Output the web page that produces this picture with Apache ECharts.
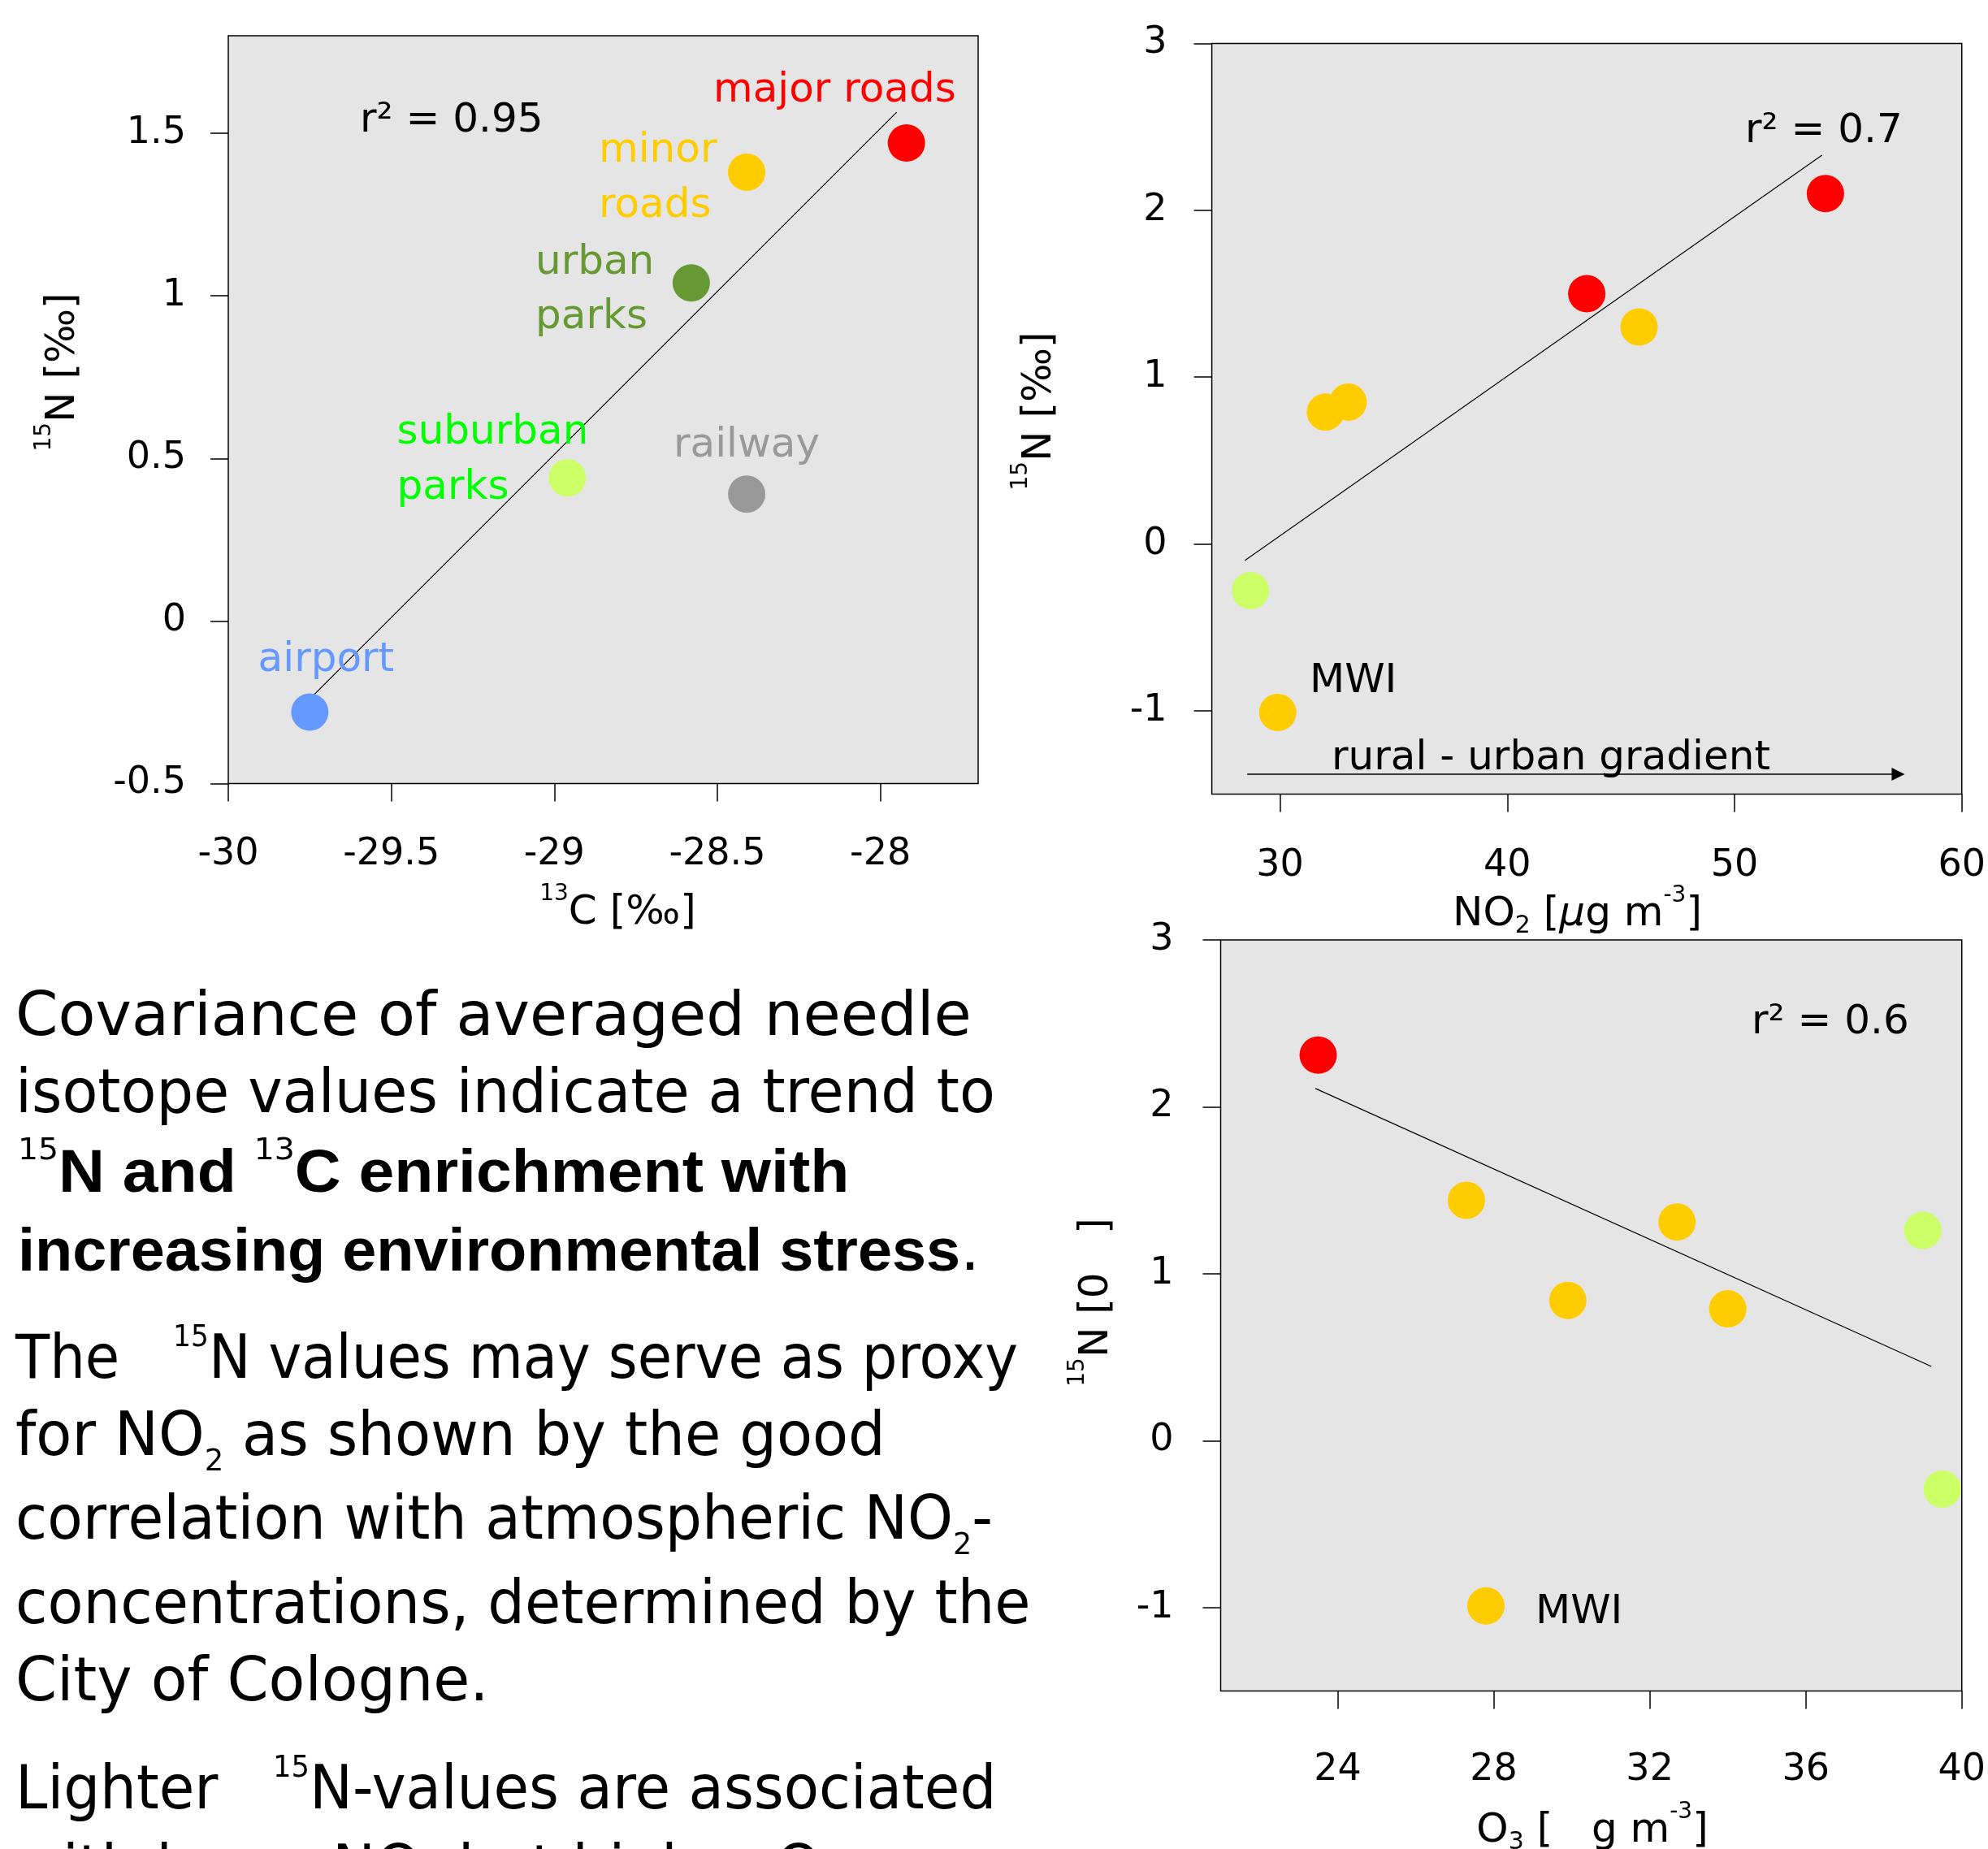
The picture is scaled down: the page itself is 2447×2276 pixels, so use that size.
<!DOCTYPE html>
<html>
<head>
<meta charset="utf-8">
<title>15N covariance</title>
<script src="https://cdn.jsdelivr.net/npm/echarts@6/dist/echarts.min.js"></script>
<style>
  html, body { margin: 0; padding: 0; background: #fff; }
  #main { width: 2447px; height: 2276px; }
</style>
</head>
<body>
<div id="main"></div>
<script>
  // ---- data read off the poster ----
  // panel 1: d13C vs d15N, one mean per site type
  const siteNames = ['airport', 'suburban parks', 'urban parks', 'minor roads', 'railway', 'major roads'];
  const c13 = [-29.75, -28.96, -28.58, -28.41, -28.41, -27.92];
  const n15Site = [-0.28, 0.44, 1.04, 1.38, 0.39, 1.47];
  const fit1X = [-29.76, -27.95];
  const fit1Y = [-0.25, 1.565];

  // panel 2: NO2 vs d15N
  const no2 = [28.7, 29.9, 32.0, 33.0, 43.5, 45.8, 54.0];
  const n15No2 = [-0.28, -1.01, 0.79, 0.85, 1.50, 1.30, 2.10];
  const no2Type = ['suburban parks', 'minor roads', 'minor roads', 'minor roads', 'major roads', 'minor roads', 'major roads'];
  const fit2X = [28.45, 53.85];
  const fit2Y = [-0.10, 2.33];
  const gradientX = [28.56, 57.2];
  const gradientY = [-1.38, -1.38];

  // panel 3: O3 vs d15N
  const o3 = [23.5, 27.3, 27.8, 29.9, 32.7, 34.0, 39.0, 39.5];
  const n15O3 = [2.31, 1.44, -0.99, 0.84, 1.31, 0.79, 1.26, -0.29];
  const o3Type = ['major roads', 'minor roads', 'minor roads', 'minor roads', 'minor roads', 'minor roads', 'suburban parks', 'suburban parks'];
  const fit3X = [23.43, 39.22];
  const fit3Y = [2.11, 0.445];

  // tick labels
  const xTicks1 = [-30, -29.5, -29, -28.5, -28];
  const yTicks1 = [-0.5, 0, 0.5, 1, 1.5];
  const xTicks2 = [30, 40, 50, 60];
  const xTicks3 = [24, 28, 32, 36, 40];
  const yTicks23 = [-1, 0, 1, 2, 3];

  const markerColor = {
    'airport': '#6699FF',
    'suburban parks': '#CCFF66',
    'urban parks': '#669933',
    'minor roads': '#FFCC00',
    'railway': '#999999',
    'major roads': '#FF0000'
  };

  const FONT = '"DejaVu Sans"';
  const BOLD = '"Liberation Sans"';
  const MID = 0.27; // baseline -> text middle, as a share of font size

  const chart = echarts.init(document.getElementById('main'));

  function xAxisFor(grid, min, max, ticks, margin) {
    return {
      type: 'value', gridIndex: grid, min: min, max: max, position: 'bottom',
      splitLine: {show: false},
      axisLine: {show: false, onZero: false},
      axisTick: {show: true, length: 22, customValues: ticks, lineStyle: {color: '#000', width: 1.5}},
      axisLabel: {customValues: ticks, margin: margin, color: '#000', fontSize: 46, fontFamily: 'DejaVu Sans'}
    }
  }
  function yAxisFor(grid, min, max, ticks, margin) {
    return {
      type: 'value', gridIndex: grid, min: min, max: max, position: 'left',
      splitLine: {show: false},
      axisLine: {show: false, onZero: false},
      axisTick: {show: true, length: 22, customValues: ticks, lineStyle: {color: '#000', width: 1.5}},
      axisLabel: {customValues: ticks, margin: margin, color: '#000', fontSize: 46, fontFamily: 'DejaVu Sans'}
    }
  }

  function points(xs, ys, types, idx) {
    return {
      type: 'scatter', xAxisIndex: idx, yAxisIndex: idx, symbol: 'circle', symbolSize: 46, z: 4,
      itemStyle: {opacity: 1},
      data: xs.map((x, i) => ({value: [x, ys[i]], itemStyle: {color: markerColor[types[i]], opacity: 1}}))
    }
  }
  function fitLine(xs, ys, idx) {
    return {
      type: 'line', xAxisIndex: idx, yAxisIndex: idx, symbol: 'none', silent: true, z: 3,
      lineStyle: {color: '#000', width: 1.2},
      data: xs.map((x, i) => [x, ys[i]])
    }
  }

  // text helpers: x = left edge, b = baseline
  function note(text, x, b, size, color) {
    return {
      type: 'text', x: x, y: b - MID * size, silent: true, z: 10,
      style: {
        text: text, font: size + 'px ' + FONT, fill: color || '#000',
        align: 'left', textAlign: 'left', verticalAlign: 'middle', textVerticalAlign: 'middle'
      }
    }
  }
  function axisTitle(text, cx, cy, rotate, rich) {
    return {
      type: 'text', x: cx, y: cy, rotation: rotate ? Math.PI / 2 : 0, silent: true, z: 10,
      style: {
        text: text, font: '50px ' + FONT, fill: '#000',
        align: 'center', textAlign: 'center', verticalAlign: 'middle', textVerticalAlign: 'middle',
        rich: rich
      }
    }
  }
  const titleRich = {
    sup: {font: '28px ' + FONT, verticalAlign: 'middle', padding: [0, 0, 46, 0]},
    sub: {font: '30px ' + FONT, verticalAlign: 'middle', padding: [28, 0, 0, 0]},
    it: {font: 'italic 50px ' + FONT, verticalAlign: 'middle'}
  };
  const bodyRich = {
    sup: {font: '37px ' + FONT, verticalAlign: 'middle', padding: [0, 0, 59, 0]},
    sub: {font: '38px ' + FONT, verticalAlign: 'middle', padding: [57, 0, 0, 0]},
    r: {font: '74px ' + FONT, verticalAlign: 'middle'}
  };

  // paragraph, one element per line: text, baseline, bold, horizontal squeeze
  const bodyLines = [
    ['Covariance of averaged needle', 1275, false, 1.016],
    ['isotope values indicate a trend to', 1370, false, 0.971],
    ['{sup|15}N and {sup|13}C enrichment with', 1466.7, true, 1.064],
    ['increasing environmental stress{r|.}', 1563.3, true, 1.022],
    ['The   {sup|15}N values may serve as proxy', 1696.7, false, 0.932],
    ['for NO{sub|2} as shown by the good', 1791.7, false, 0.974],
    ['correlation with atmospheric NO{sub|2}-', 1895, false, 0.962],
    ['concentrations, determined by the', 1998.3, false, 0.972],
    ['City of Cologne.', 2093.3, false, 0.989],
    ['Lighter   {sup|15}N-values are associated', 2226.7, false, 0.957],
    ['with lower NO{sub|2} but higher O{sub|3}', 2325, false, 0.96]
  ];
  const bodyText = bodyLines.map(([t, b, bold, sx]) => ({
    type: 'text', x: bold ? 22 : 19, y: b - MID * 74, scaleX: sx, silent: true,
    style: {
      text: t, font: bold ? 'bold 74px ' + BOLD : '74px ' + FONT, fill: '#000',
      align: 'left', textAlign: 'left', verticalAlign: 'middle', textVerticalAlign: 'middle',
      rich: bodyRich
    }
  }));

  const option = {
    animation: false,
    backgroundColor: '#fff',
    grid: [
      {left: 281, top: 44, width: 923, height: 920.5, show: true, backgroundColor: '#E5E5E5', borderColor: '#000', borderWidth: 1.5},
      {left: 1491.6, top: 53.5, width: 924.4, height: 924.1, show: true, backgroundColor: '#E5E5E5', borderColor: '#000', borderWidth: 1.5},
      {left: 1502.5, top: 1157, width: 925.2, height: 924.6, show: true, backgroundColor: '#E5E5E5', borderColor: '#000', borderWidth: 1.5}
    ],
    xAxis: [
      xAxisFor(0, -30, -27.7, xTicks1, 65),
      xAxisFor(1, 27, 60, xTicks2, 65),
      xAxisFor(2, 21, 40, xTicks3, 74)
    ],
    yAxis: [
      yAxisFor(0, -0.5, 1.8, yTicks1, 52),
      yAxisFor(1, -1.5, 3, yTicks23, 55),
      yAxisFor(2, -1.5, 3, yTicks23, 58)
    ],
    series: [
      fitLine(fit1X, fit1Y, 0),
      points(c13, n15Site, siteNames, 0),
      fitLine(fit2X, fit2Y, 1),
      points(no2, n15No2, no2Type, 1),
      {
        type: 'lines', coordinateSystem: 'cartesian2d', xAxisIndex: 1, yAxisIndex: 1, silent: true, z: 3,
        symbol: ['none', 'triangle'], symbolSize: 16,
        lineStyle: {color: '#000', width: 1.5, opacity: 1},
        data: [{coords: gradientX.map((x, i) => [x, gradientY[i]])}]
      },
      fitLine(fit3X, fit3Y, 2),
      points(o3, n15O3, o3Type, 2)
    ],
    graphic: {
      elements: [
        note('r\u00b2 = 0.95', 443, 163, 50),
        note('major roads', 878, 126, 50, markerColor['major roads']),
        note('minor', 737, 199.5, 50, markerColor['minor roads']),
        note('roads', 737, 267.7, 50, markerColor['minor roads']),
        note('urban', 659, 337.4, 50, markerColor['urban parks']),
        note('parks', 659, 405, 50, markerColor['urban parks']),
        note('suburban', 488.6, 546.4, 50, '#00FF00'),
        note('parks', 488.6, 614.6, 50, '#00FF00'),
        note('railway', 829, 563, 50, markerColor['railway']),
        note('airport', 317.6, 827, 50, markerColor['airport']),

        note('r\u00b2 = 0.7', 2148, 176, 50),
        note('MWI', 1612, 853, 50),
        note('rural - urban gradient', 1639, 947.6, 50),

        note('r\u00b2 = 0.6', 2156, 1272.5, 50),
        note('MWI', 1890, 1998.3, 50),

        axisTitle('{sup|13}C [\u2030]', 760.5, 1124, false, titleRich),
        axisTitle('{sup|15}N [\u2030]', 78, 458, true, titleRich),
        axisTitle('NO{sub|2} [{it|\u00b5}g m{sup|-3}]', 1941.5, 1126, false, titleRich),
        axisTitle('{sup|15}N [\u2030]', 1280, 506, true, titleRich),
        axisTitle('O{sub|3} [   g m{sup|-3}]', 1960, 2254, false, titleRich),
        axisTitle('{sup|15}N [0   ]', 1350, 1603, true, titleRich)
      ].concat(bodyText)
    }
  };

  chart.setOption(option);
</script>
</body>
</html>
